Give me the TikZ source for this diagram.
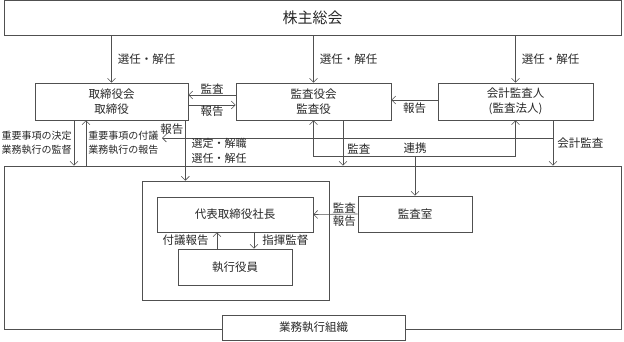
\documentclass[tikz,border=0pt]{standalone}
\usepackage{fontspec}
\setmainfont{Noto Sans CJK JP}
\usepackage{xcolor}
\usepackage{tikz}
\usetikzlibrary{arrows.meta,positioning,calc}

\definecolor{linegray}{RGB}{80,80,80}
\definecolor{textgray}{RGB}{40,40,40}

\begin{document}
\begin{tikzpicture}[
        x=1pt, y=-1pt,
        box/.style={draw=linegray, line width=0.6pt, rectangle, fill=white, inner sep=0pt, align=center, text=textgray, font=\fontsize{11.5}{14.5}\selectfont},
        frame/.style={draw=linegray, line width=0.6pt, rectangle, inner sep=0pt},
        arrow/.style={-{Straight Barb[length=4pt,width=8pt]}, draw=linegray, line width=0.6pt},
        both/.style={{Straight Barb[length=4pt,width=8pt]}-{Straight Barb[length=4pt,width=8pt]}, draw=linegray, line width=0.6pt},
        note/.style={font=\fontsize{11.5}{15}\selectfont, text=textgray, inner sep=1pt, align=center},
        small/.style={font=\fontsize{10}{14}\selectfont, text=textgray, inner sep=1pt, align=center}
    ]
        \useasboundingbox (0,0) rectangle (624,341);

        % boxes
        \node[box, minimum width=617pt, minimum height=35pt, font=\fontsize{15}{18}\selectfont] (soukai) at (312.5,18) {株主総会};
        \node[box, minimum width=153pt, minimum height=37pt] (torishimari) at (111.5,101.5) {取締役会\\取締役};
        \node[box, minimum width=155pt, minimum height=37pt] (kansayaku) at (313.5,101.5) {監査役会\\監査役};
        \node[box, minimum width=155pt, minimum height=37pt] (kaikei) at (515.5,101.5) {会計監査人\\(監査法人)};
        \node[frame, minimum width=617pt, minimum height=163pt] (gyomu) at (312.5,247.5) {};
        \node[frame, minimum width=187pt, minimum height=119pt] (inner) at (235.5,240.5) {};
        \node[box, minimum width=156pt, minimum height=35pt] (shacho) at (235,214.5) {代表取締役社長};
        \node[box, minimum width=114pt, minimum height=36pt] (shikkou) at (235,267) {執行役員};
        \node[box, minimum width=114pt, minimum height=36pt] (kansashitsu) at (415,214) {監査室};
        \node[box, minimum width=183pt, minimum height=25pt] (soshiki) at (313.5,327.5) {業務執行組織};

        % from the general meeting
        \draw[arrow] (torishimari.north |- soukai.south) -- node[note, right=5pt] {選任・解任} (torishimari.north);
        \draw[arrow] (kansayaku.north |- soukai.south) -- node[note, right=5pt] {選任・解任} (kansayaku.north);
        \draw[arrow] (kaikei.north |- soukai.south) -- node[note, right=5pt] {選任・解任} (kaikei.north);

        % between the boards
        \draw[arrow] (kansayaku.west |- 0,95) -- node[note, above] {監査} (torishimari.east |- 0,95);
        \draw[arrow] (torishimari.east |- 0,105) -- node[note, below] {報告} (kansayaku.west |- 0,105);
        \draw[arrow] (kaikei.west |- 0,100) -- node[note, below=2pt] {報告} (kansayaku.east |- 0,100);

        % accounting audit
        \coordinate (kbranch) at (553,138);
        \coordinate (kreport) at (162,138);
        \draw[arrow] (kaikei.south -| kbranch) -- node[note, right=3pt] {会計監査} (gyomu.north -| kbranch);
        \draw[arrow] (kbranch) -- (kreport) node[note, anchor=south west, xshift=-3pt, yshift=2pt] {報告};

        % board and execution
        \draw[arrow] (torishimari.south -| 74,0) -- node[small, left=1pt] {重要事項の決定\\業務執行の監督} (gyomu.north -| 74,0);
        \draw[arrow] (gyomu.north -| 86,0) -- node[small, right=1pt] {重要事項の付議\\業務執行の報告} (torishimari.south -| 86,0);
        \draw[arrow] ([xshift=-3pt]torishimari.south east) -- node[note, right=5pt, font=\fontsize{11}{15}\selectfont] {選定・解職\\選任・解任} ([xshift=-3pt]torishimari.south east |- inner.north);

        % auditors
        \draw[both] (kansayaku.south) |- (kaikei.south |- 0,156) -- (kaikei.south);
        \draw[arrow] (kansayaku.south -| 343,0) -- node[note, right=3pt, pos=0.63] {監査} (gyomu.north -| 343,0);
        \draw[arrow] (kansashitsu.north |- 0,156) node[note, above=1pt] {連携} -- (kansashitsu.north);
        \draw[arrow] (kansashitsu.west) -- node[note, above, pos=0.3] {監査} node[note, below, pos=0.3] {報告} (shacho.east);

        % president and officers
        \draw[arrow] (shikkou.north -| 217,0) -- node[note, left=7pt] {付議報告} (shacho.south -| 217,0);
        \draw[arrow] (shacho.south -| 254,0) -- node[note, right=7pt] {指揮監督} (shikkou.north -| 254,0);
    \end{tikzpicture}
\end{document}
